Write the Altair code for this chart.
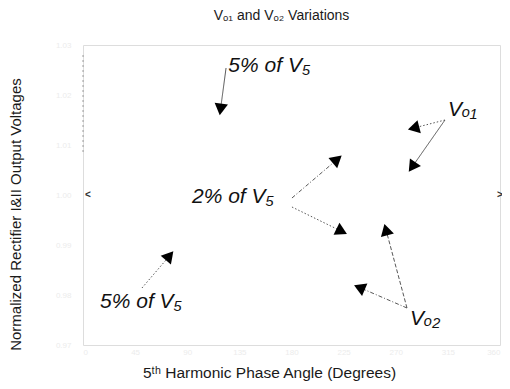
import math
import altair as alt
import pandas as pd

# ---------------- data ----------------
TITLE = "Vₒ₁ and Vₒ₂ Variations"
X_TITLE = "5ᵗʰ Harmonic Phase Angle (Degrees)"
Y_TITLE = "Normalized Rectifier I&II Output Voltages"

X_DOMAIN = [0, 360]
Y_DOMAIN = [0.97, 1.03]
X_TICKS = [0, 45, 90, 135, 180, 225, 270, 315, 360]
Y_TICKS = [0.97, 0.98, 0.99, 1.00, 1.01, 1.02, 1.03]

label_text = ["5% of V₅", "2% of V₅", "5% of V₅", "Vₒ₁", "Vₒ₂"]
label_x = [125.5, 94.1, 14.7, 315.1, 282.3]
label_y = [1.0246, 0.9984, 0.9774, 1.0158, 0.9740]

arrow_x1 = [123.5, 312.5, 312.5, 180.4, 180.4, 279.7, 279.7, 50.9]
arrow_y1 = [1.0254, 1.0150, 1.0150, 0.9994, 0.9976, 0.9774, 0.9774, 0.9814]
arrow_x2 = [118.3, 282.3, 282.3, 221.9, 226.2, 260.7, 235.7, 76.8]
arrow_y2 = [1.0164, 1.0132, 1.0050, 1.0076, 0.9924, 0.9938, 0.9818, 0.9884]
arrow_style = ["solid", "dotted", "solid", "dashdot", "dotted", "dashed", "dashdot", "dotted"]

# faint remnants of the traces
trace_x1 = [0.0]
trace_y1 = [1.0280]
trace_x2 = [0.0]
trace_y2 = [1.0086]
end_text = ["<", ">"]
end_x = [4.3, 360.0]
end_y = [1.0, 1.0]

# ---------------- layout ----------------
W, H = 417, 300
FONT = "Liberation Sans"
PX_PER_X = W / (X_DOMAIN[1] - X_DOMAIN[0])
PX_PER_Y = H / (Y_DOMAIN[1] - Y_DOMAIN[0])
HEAD_BACK = 5.6  # px from tip to triangle centre

arrows = pd.DataFrame({"x": arrow_x1, "y": arrow_y1, "x2": arrow_x2, "y2": arrow_y2,
                       "style": arrow_style})

hx, hy, ha = [], [], []
for x1, y1, x2, y2 in zip(arrow_x1, arrow_y1, arrow_x2, arrow_y2):
    dxp = (x2 - x1) * PX_PER_X
    dyp = -(y2 - y1) * PX_PER_Y  # screen-down positive
    L = math.hypot(dxp, dyp)
    ux, uy = dxp / L, dyp / L
    ang = math.degrees(math.atan2(dxp, -dyp)) % 360
    hx.append(x2 - ux * HEAD_BACK / PX_PER_X)
    hy.append(y2 + uy * HEAD_BACK / PX_PER_Y)
    ha.append(ang)
heads = pd.DataFrame({"x": hx, "y": hy, "angle": ha})

labels = pd.DataFrame({"text": label_text, "x": label_x, "y": label_y})
trace = pd.DataFrame({"x": trace_x1, "y": trace_y1, "x2": trace_x2, "y2": trace_y2})
ends = pd.DataFrame({"text": end_text, "x": end_x, "y": end_y})

xs = alt.Scale(domain=X_DOMAIN, nice=False, zero=False)
ys = alt.Scale(domain=Y_DOMAIN, nice=False, zero=False)

x_axis = alt.Axis(values=X_TICKS, labelColor="#ececec", labelFontSize=8, ticks=False,
                  domain=False, grid=False, labelPadding=3, title=X_TITLE,
                  titleFont=FONT, titleFontSize=15.5, titleFontWeight="normal",
                  titleColor="#1a1a1a", titleX=186, titleY=27, titleAlign="center",
                  titleBaseline="middle")
y_axis = alt.Axis(values=Y_TICKS, format=".2f", labelColor="#ececec", labelFontSize=8,
                  ticks=False, domain=False, grid=False, labelPadding=12, title=Y_TITLE,
                  titleFont=FONT, titleFontSize=15, titleFontWeight="normal",
                  titleColor="#1a1a1a", titleAngle=270, titleX=-68, titleY=169,
                  titleAlign="center", titleBaseline="middle")


def X(f="x"):
    return alt.X(f + ":Q", scale=xs, axis=x_axis, title=X_TITLE)


def Y(f="y"):
    return alt.Y(f + ":Q", scale=ys, axis=y_axis, title=Y_TITLE)


lines = alt.Chart(arrows).mark_rule(color="#444", strokeWidth=0.9).encode(
    x=X(), y=Y(), x2="x2:Q", y2="y2:Q",
    strokeDash=alt.StrokeDash("style:N", legend=None, scale=alt.Scale(
        domain=["solid", "dotted", "dashed", "dashdot"],
        range=[[1, 0], [1.5, 2], [4, 2], [4, 2, 1, 2]])),
)

head_layer = alt.Chart(heads).mark_point(shape="triangle", filled=True, color="black",
                                         opacity=1, size=180).encode(
    x=X(), y=Y(), angle=alt.Angle("angle:Q", scale=None),
)

text_layer = alt.Chart(labels).mark_text(font=FONT, fontSize=21, fontStyle="italic",
                                         align="left", baseline="alphabetic",
                                         color="#111").encode(
    x=X(), y=Y(), text="text:N",
)

trace_layer = alt.Chart(trace).mark_rule(color="#888", strokeWidth=0.8,
                                         strokeDash=[2, 3]).encode(
    x=X(), y=Y(), x2="x2:Q", y2="y2:Q",
)

end_layer = alt.Chart(ends).mark_text(font=FONT, fontSize=10, fontWeight="bold",
                                      color="#333").encode(
    x=X(), y=Y(), text="text:N",
)

chart = alt.layer(lines, trace_layer, end_layer, head_layer, text_layer).properties(
    width=W, height=H,
    title=alt.TitleParams(TITLE, font=FONT, fontSize=14, fontWeight="normal",
                          color="#1a1a1a", anchor="middle", dx=-10, offset=18),
    padding={"left": 75, "top": 37, "right": 2, "bottom": 36},
    autosize=alt.AutoSizeParams(type="none"),
).configure_view(strokeOpacity=0, strokeWidth=0).configure(background="white")

chart.save("out.html", embed_options={"renderer": "svg", "actions": False})
